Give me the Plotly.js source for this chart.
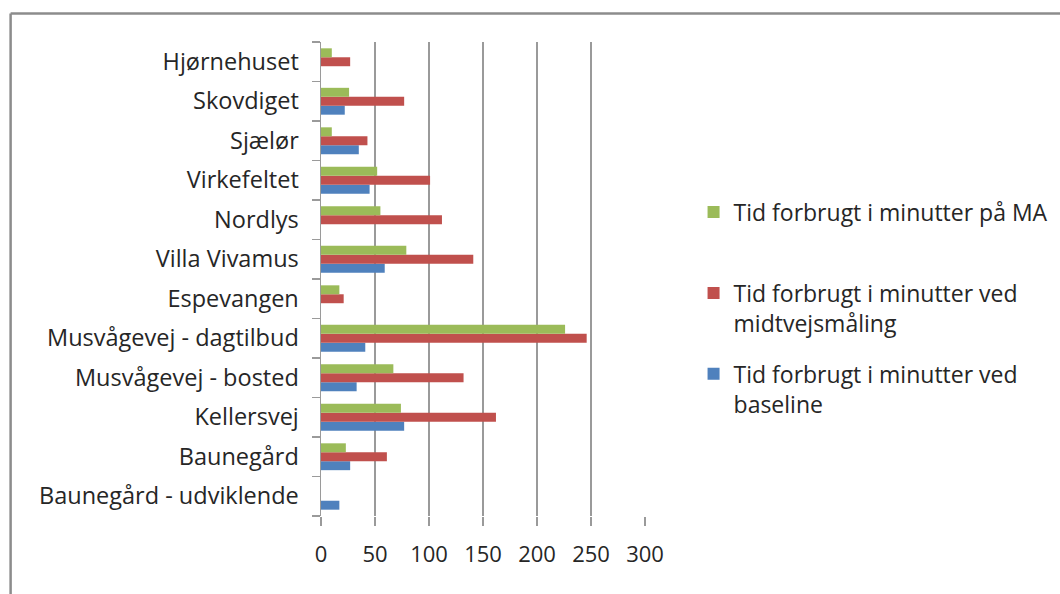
<!DOCTYPE html>
<html>
<head>
<meta charset="utf-8">
<script src="https://cdn.plot.ly/plotly-3.0.1.min.js"></script>
<style>html,body{margin:0;padding:0;background:#fff;}#chart{width:1060px;height:594px;}</style>
</head>
<body>
<div id="chart"></div>
<script>
const categories = ["Baunegård - udviklende","Baunegård","Kellersvej","Musvågevej - bosted","Musvågevej - dagtilbud","Espevangen","Villa Vivamus","Nordlys","Virkefeltet","Sjælør","Skovdiget","Hjørnehuset"];
const baseline = [17, 27, 77, 33, 41, 0, 59, 0, 45, 35, 22, 0];
const midtvejs = [0, 61, 162, 132, 246, 21, 141, 112, 101, 43, 77, 27];
const paMA = [0, 23, 74, 67, 226, 17, 79, 55, 52, 10, 26, 10];
const seriesNames = ["Tid forbrugt i minutter ved<br>baseline","Tid forbrugt i minutter ved<br>midtvejsmåling","Tid forbrugt i minutter på MA<br>\u00a0"];
const xTicks = [0,50,100,150,200,250,300];

const font = "Open Sans, Noto Sans, sans-serif";
const colors = ["#4F81BD","#C0504D","#9BBB59"];
const vals = [baseline, midtvejs, paMA];
const traces = vals.map((v,i)=>({
  type:"bar", orientation:"h", y:categories, x:v, name:seriesNames[i],
  legendgroup:"g"+i, legendrank:3-i,
  marker:{color:colors[i], line:{width:0}}
}));

const layout = {
  width:1060, height:594,
  margin:{l:321, r:415, t:42, b:78},
  paper_bgcolor:"#fff", plot_bgcolor:"#fff",
  barmode:"group", bargap:0.32, bargroupgap:0,
  font:{family:font, size:22, color:"#262626"},
  xaxis:{range:[0,300], tickvals:xTicks, ticktext:xTicks.map(String), showgrid:true, gridcolor:"#9a9a9a", gridwidth:1.5,
         zeroline:false, showline:false, ticks:"outside", ticklen:9, tickcolor:"#9a9a9a", tickwidth:1.5,
         tickfont:{family:font, size:22, color:"#262626"}, ticklabelstandoff:10, automargin:false, fixedrange:true},
  yaxis:{type:"category", categoryorder:"array", categoryarray:categories, showline:true, linecolor:"#9a9a9a", linewidth:1.5,
         ticks:"outside", tickson:"boundaries", ticklen:8, tickcolor:"#9a9a9a", tickwidth:1.5, showgrid:false,
         tickfont:{family:font, size:23.5, color:"#262626"}, ticklabelstandoff:16, automargin:false, fixedrange:true},
  showlegend:true,
  legend:{xref:"container", yref:"container", x:0.6543, xanchor:"left", y:0.679, yanchor:"top",
          traceorder:"grouped", tracegroupgap:18, valign:"top",
          font:{family:font, size:23, color:"#262626"}, bgcolor:"rgba(0,0,0,0)"},
  shapes:[
    {type:"line", xref:"paper", yref:"paper", x0:-0.958, x1:-0.958, y0:1.06, y1:-0.3, line:{color:"#8c8c8c", width:2.5}},
    {type:"line", xref:"paper", yref:"paper", x0:-0.958, x1:2.4, y0:1.06, y1:1.06, line:{color:"#8c8c8c", width:2.5}}
  ]
};
Plotly.newPlot("chart", traces, layout, {displayModeBar:false, staticPlot:true});
</script>
</body>
</html>
